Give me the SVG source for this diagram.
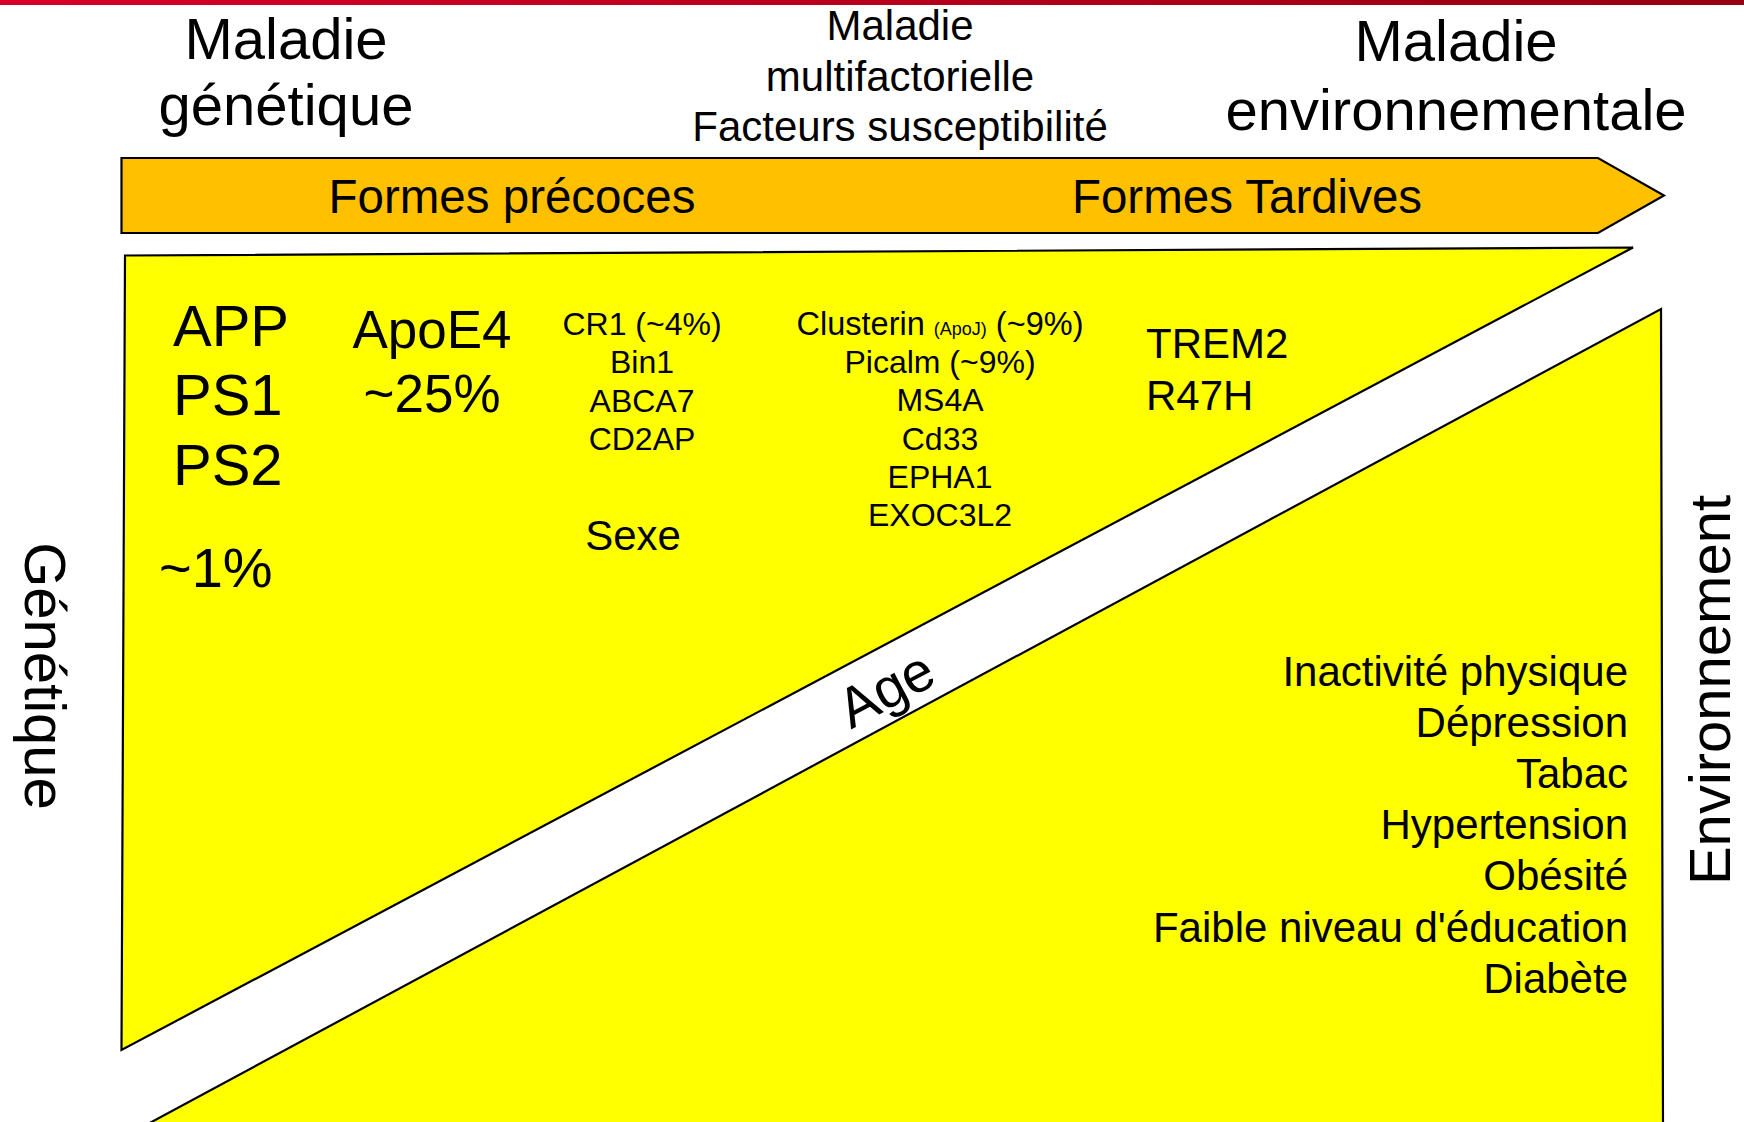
<svg xmlns="http://www.w3.org/2000/svg" width="1744" height="1122" viewBox="0 0 1744 1122">
  <defs>
    <linearGradient id="topbar" x1="0" y1="0" x2="1" y2="0">
      <stop offset="0" stop-color="#d80028"/>
      <stop offset="1" stop-color="#960010"/>
    </linearGradient>
  </defs>
  <style>
    text { font-family: "Liberation Sans", Arial, sans-serif; fill: #000; }
    .shape { stroke: #000; stroke-width: 2.2; stroke-linejoin: miter; }
    .yellow { fill: #ffff00; }
    .orange { fill: #ffc000; }
    .h58 { font-size: 58px; }
    .h42 { font-size: 42px; }
    .h32 { font-size: 32px; }
    .mid { text-anchor: middle; }
    .end { text-anchor: end; }
  </style>

  <rect x="0" y="0" width="1744" height="5" fill="url(#topbar)"/>

  <g id="shapes">
    <polygon id="arrow" class="shape orange" points="121.5,158 1598,158 1664,195.5 1598,233 121.5,233"/>
    <polygon id="genetic-wedge" class="shape yellow" points="125,255.5 1633,247.5 121.5,1050"/>
    <polygon id="environment-wedge" class="shape yellow" points="1661,309 1663,1125 146,1125"/>
  </g>

  <g id="header-genetic">
    <text class="h58 mid" x="286" y="59">Maladie</text>
    <text class="h58 mid" x="286" y="125">génétique</text>
  </g>
  <g id="header-multifactorial">
    <text class="h42 mid" x="900" y="40">Maladie</text>
    <text class="h42 mid" x="900" y="91">multifactorielle</text>
    <text class="h42 mid" x="900" y="141">Facteurs susceptibilité</text>
  </g>
  <g id="header-environment">
    <text class="h58 mid" x="1456" y="61">Maladie</text>
    <text class="h58 mid" x="1456" y="130">environnementale</text>
  </g>

  <g id="arrow-labels">
    <text class="mid" font-size="47.5" x="512" y="213">Formes précoces</text>
    <text class="mid" font-size="47.5" x="1247" y="213">Formes Tardives</text>
  </g>

  <g id="mendelian">
    <text class="h58" x="173" y="346">APP</text>
    <text class="h58" x="173" y="415">PS1</text>
    <text class="h58" x="173" y="485">PS2</text>
    <text font-size="56" x="159" y="587">~1%</text>
  </g>

  <g id="apoe4">
    <text class="mid" font-size="53" x="432" y="348">ApoE4</text>
    <text class="mid" font-size="53" x="432" y="412">~25%</text>
  </g>

  <g id="cr1-group">
    <text class="h32 mid" x="642" y="335">CR1 (~4%)</text>
    <text class="h32 mid" x="642" y="373">Bin1</text>
    <text class="h32 mid" x="642" y="412">ABCA7</text>
    <text class="h32 mid" x="642" y="450">CD2AP</text>
    <text class="h42 mid" x="633" y="550">Sexe</text>
  </g>

  <g id="clusterin-group">
    <text class="mid" font-size="32.5" x="940" y="335">Clusterin <tspan font-size="18">(ApoJ)</tspan> (~9%)</text>
    <text class="h32 mid" x="940" y="373">Picalm (~9%)</text>
    <text class="h32 mid" x="940" y="411">MS4A</text>
    <text class="h32 mid" x="940" y="450">Cd33</text>
    <text class="h32 mid" x="940" y="488">EPHA1</text>
    <text class="h32 mid" x="940" y="526">EXOC3L2</text>
  </g>

  <g id="trem2">
    <text font-size="42" x="1146" y="358">TREM2</text>
    <text font-size="42" x="1146" y="410">R47H</text>
  </g>

  <g id="age">
    <text class="mid" font-size="56" transform="translate(895,706) rotate(-28)" x="0" y="0">Age</text>
  </g>

  <g id="environment-factors">
    <text class="h42 end" x="1628" y="686">Inactivité physique</text>
    <text class="h42 end" x="1628" y="737">Dépression</text>
    <text class="h42 end" x="1628" y="788">Tabac</text>
    <text class="h42 end" x="1628" y="839">Hypertension</text>
    <text class="h42 end" x="1628" y="890">Obésité</text>
    <text class="h42 end" x="1628" y="942">Faible niveau d'éducation</text>
    <text class="h42 end" x="1628" y="993">Diabète</text>
  </g>

  <g id="axis-labels">
    <text class="h58 mid" transform="translate(25,676) rotate(90)" x="0" y="0">Génétique</text>
    <text class="h58 mid" transform="translate(1730,690) rotate(-90)" x="0" y="0">Environnement</text>
  </g>
</svg>
